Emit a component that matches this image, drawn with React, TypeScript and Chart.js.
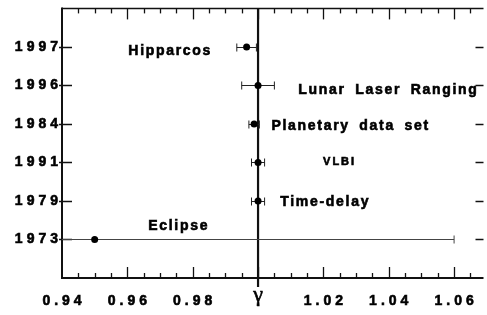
import React, { useEffect, useRef } from "react";
import { Chart, registerables } from "chart.js";

Chart.register(...registerables);

// ---- data ----
const experiments = ["Hipparcos", "Lunar Laser Ranging", "Planetary data set", "VLBI", "Time-delay", "Eclipse"];
const years = ["1997", "1996", "1984", "1991", "1979", "1973"];
const gamma = [0.9965, 1.0, 0.9988, 1.0, 1.0, 0.95];
const gammaErr = [0.003, 0.005, 0.0016, 0.002, 0.002, 0.11];
const xMajorValues = [0.94, 0.96, 0.98, 1.0, 1.02, 1.04, 1.06];
const xMajorLabels = ["0.94", "0.96", "0.98", "γ", "1.02", "1.04", "1.06"];

// ---- layout of annotation labels (anchor in gamma units, baseline offset px, font size) ----
const labelLayout = [
  { gx: 0.9603, dy: 8, size: 14 },
  { gx: 1.0123, dy: 9, size: 14 },
  { gx: 1.0041, dy: 6, size: 14 },
  { gx: 1.0199, dy: 3, size: 11 },
  { gx: 1.0068, dy: 5, size: 14 },
  { gx: 0.9664, dy: -9, size: 14 },
];

const N = experiments.length;
const rowOf = (i: number) => N - i;
const SANS = "'Liberation Sans', Arial, sans-serif";

function majorIndex(v: number) {
  return xMajorValues.findIndex((m) => Math.abs(m - v) < 1e-6);
}

const framePlugin = {
  id: "frame",
  beforeDraw(chart: any) {
    chart.ctx.letterSpacing = "4px";
  },
  beforeDatasetsDraw(chart: any) {
    const { ctx, chartArea, scales } = chart;
    const { left, right, top, bottom } = chartArea;
    const xs = scales.x;
    const ys = scales.y;
    ctx.save();
    ctx.letterSpacing = "0px";
    ctx.strokeStyle = "#111";
    const seg = (x1: number, y1: number, x2: number, y2: number, w: number) => {
      ctx.lineWidth = w;
      ctx.beginPath();
      ctx.moveTo(x1, y1);
      ctx.lineTo(x2, y2);
      ctx.stroke();
    };
    // frame
    seg(left, top - 1, left, bottom + 1, 2);
    seg(left - 1, bottom, right, bottom, 2);
    seg(left, top, right, top, 1.5);
    // x ticks
    xs.ticks.forEach((t: any) => {
      const px = Math.round(xs.getPixelForValue(t.value)) + 0.5;
      if (px <= left + 1 || px >= right - 1) return;
      const major = majorIndex(t.value) >= 0;
      const len = major ? 11 : 5;
      seg(px, bottom, px, bottom - len, 1.3);
      seg(px, top, px, top + len, 1.3);
    });
    // y ticks
    ys.ticks.forEach((t: any) => {
      if (t.value < 1 || t.value > N) return;
      const py = Math.round(ys.getPixelForValue(t.value)) + 0.5;
      seg(left - 3, py, left + 10, py, 1.5);
      seg(right - 8, py, right, py, 1.5);
    });
    // gamma = 1 line
    const x1 = xs.getPixelForValue(1.0);
    seg(x1, top, x1, bottom + 9, 2.2);
    // error bars
    ctx.save();
    ctx.beginPath();
    ctx.rect(left, top, right - left, bottom - top);
    ctx.clip();
    gamma.forEach((g, i) => {
      const py = Math.round(ys.getPixelForValue(rowOf(i))) + 0.5;
      const a = xs.getPixelForValue(g - gammaErr[i]);
      const b = xs.getPixelForValue(g + gammaErr[i]);
      ctx.strokeStyle = i === N - 1 ? "#444" : "#222";
      seg(a, py, b, py, 1);
      seg(a, py - 4, a, py + 4, 1);
      seg(b, py - 4, b, py + 4, 1);
    });
    ctx.restore();
    ctx.restore();
  },
  afterDraw(chart: any) {
    const { ctx, scales } = chart;
    const xs = scales.x;
    const ys = scales.y;
    ctx.save();
    ctx.fillStyle = "#000";
    ctx.strokeStyle = "#000";
    ctx.lineWidth = 0.6;
    ctx.textBaseline = "alphabetic";
    ctx.textAlign = "left";
    experiments.forEach((name, i) => {
      const L = labelLayout[i];
      ctx.font = `bold ${L.size}px ${SANS}`;
      ctx.letterSpacing = L.size < 13 ? "2px" : "1.7px";
      (ctx as any).wordSpacing = "4px";
      const px = xs.getPixelForValue(L.gx);
      const py = ys.getPixelForValue(rowOf(i)) + L.dy;
      ctx.fillText(name, px, py);
      ctx.strokeText(name, px, py);
    });
    ctx.restore();
    ctx.letterSpacing = "0px";
  },
};

export default function App() {
  const ref = useRef<HTMLCanvasElement | null>(null);
  useEffect(() => {
    if (!ref.current) return;
    const chart = new Chart(ref.current, {
      type: "scatter",
      data: {
        datasets: [
          {
            data: gamma.map((g, i) => ({ x: g, y: rowOf(i) })),
            pointRadius: 3.5,
            pointHoverRadius: 3.5,
            backgroundColor: "#000",
            borderColor: "#000",
            borderWidth: 0,
          },
        ],
      },
      options: {
        responsive: false,
        animation: false,
        events: [],
        layout: { padding: { top: 6, right: 0, left: 0, bottom: 0 } },
        plugins: { legend: { display: false }, tooltip: { enabled: false } },
        scales: {
          x: {
            type: "linear",
            min: 0.94,
            max: 1.069,
            afterFit: (s: any) => {
              s.height = 37;
            },
            grid: { display: false, drawTicks: false, tickLength: 0 },
            border: { display: false },
            ticks: {
              stepSize: 0.005,
              autoSkip: false,
              includeBounds: false,
              maxRotation: 0,
              minRotation: 0,
              padding: 15,
              labelOffset: 2,
              color: "#000",
              textStrokeColor: "#000",
              textStrokeWidth: 0.6,
              font: (c: any) => {
                const v = c.tick ? c.tick.value : 0;
                if (Math.abs(v - 1) < 1e-6)
                  return { family: "'Liberation Serif', serif", size: 22, lineHeight: 0.2 };
                return { family: SANS, size: 14, weight: "bold" };
              },
              callback: (v: any) => {
                const k = majorIndex(Number(v));
                return k >= 0 ? xMajorLabels[k] : "";
              },
            },
          },
          y: {
            type: "linear",
            min: 0,
            max: N + 1,
            afterFit: (s: any) => {
              s.width = 62;
            },
            grid: { display: false, drawTicks: false, tickLength: 0 },
            border: { display: false },
            ticks: {
              stepSize: 1,
              autoSkip: false,
              padding: 0,
              color: "#000",
              textStrokeColor: "#000",
              textStrokeWidth: 0.6,
              font: { family: SANS, size: 14, weight: "bold" },
              callback: (v: any) => {
                const n = Number(v);
                if (n < 1 || n > N) return "";
                return years[N - n];
              },
            },
          },
        },
      },
      plugins: [framePlugin],
    });
    return () => chart.destroy();
  }, []);
  return (
    <div style={{ position: "fixed", left: 0, top: 0, width: 487, height: 315, background: "#fff" }}>
      <canvas ref={ref} width={487} height={315} style={{ display: "block" }} />
    </div>
  );
}
